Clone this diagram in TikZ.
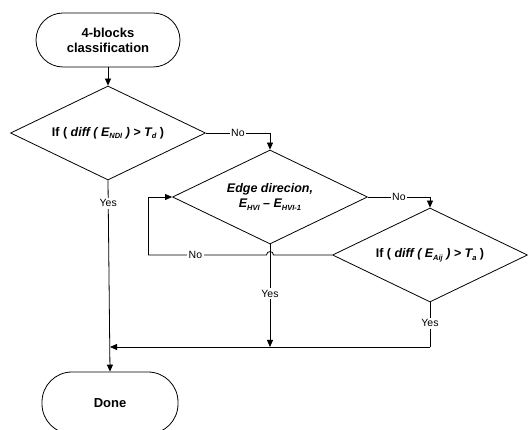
\documentclass[tikz,border=0pt]{standalone}
\usepackage{fontspec}
\setmainfont{Liberation Sans}
\usetikzlibrary{shapes.geometric,arrows.meta,calc}
\newcommand\lsub[1]{\raisebox{-0.45ex}{\fontsize{7.5}{7.5}\selectfont #1}}
\begin{document}
\begin{tikzpicture}[x=1pt,y=-1pt,
  every path/.style={line width=0.8pt},
  term/.style={draw, rectangle, rounded corners=27pt, minimum width=144pt, minimum height=54pt,
     align=center, font=\fontsize{13}{15}\selectfont\bfseries, inner sep=0pt},
  dec/.style={draw, diamond, aspect=2.07, minimum width=195pt, minimum height=94pt, inner sep=0pt,
     align=center, font=\fontsize{12.5}{15}\selectfont\bfseries},
  arr/.style={-{Triangle[length=7pt,width=6pt]}},
  lbl/.style={fill=white, inner sep=1.5pt, font=\fontsize{10.5}{12}\selectfont}]
\useasboundingbox (0,0) rectangle (528,430);
\node[term] (t1) at (108,40) {4-blocks\\classification};
\node[dec] (d1) at (108,133) {If ( \textit{diff ( E\lsub{NDI} ) > T\lsub{d}} )};
\node[dec] (d2) at (270,197) {\textit{Edge direcion,}\\\textit{E\lsub{HVI} – E\lsub{HVI-1}}};
\node[dec] (d3) at (430,255) {If ( \textit{diff ( E\lsub{Aij} ) > T\lsub{a}} )};
\node[draw, rectangle, rounded corners=30pt, minimum width=136pt, minimum height=62pt,
   font=\fontsize{13}{15}\selectfont\bfseries] (t2) at (110,403) {Done};
\coordinate (m) at (270,347);
\coordinate (j) at (110,347);
\coordinate (lp) at (148,255);
% edges
\draw[arr] (t1.south) -- (d1.north);
\draw[arr] (d1.east) -- node[lbl]{No} (d1.east -| d2.north) -- (d2.north);
\draw[arr] (d2.east) -- node[lbl]{No} (d2.east -| d3.north) -- (d3.north);
\draw (d3.west) -- ($(d2.south |- d3.west)+(3.5,0)$)
   .. controls ($(d2.south |- d3.west)+(3.5,-4.5)$) and ($(d2.south |- d3.west)+(-3.5,-4.5)$) ..
   ($(d2.south |- d3.west)+(-3.5,0)$) -- node[lbl, pos=0.6]{No} (lp);
\draw[arr] (lp) |- (d2.west);
\draw[arr] (d2.south) -- node[lbl, pos=0.48]{Yes} (m);
\draw (d3.south) -- node[lbl, pos=0.47]{Yes} (d3.south |- m);
\draw[arr] (d3.south |- m) -- (j);
\draw[arr] (d1.south) -- node[lbl, pos=0.12]{Yes} (t2.north);
\end{tikzpicture}
\end{document}
